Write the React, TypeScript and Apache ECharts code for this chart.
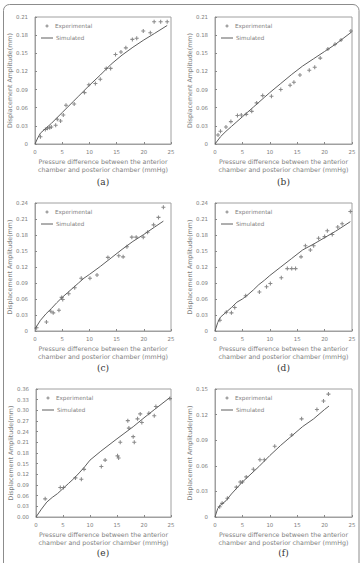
import React, { useEffect, useRef } from 'react';
import * as echarts from 'echarts';

// ---------- data ----------
const panelLabels = ['(a)', '(b)', '(c)', '(d)', '(e)', '(f)'];
const xMax = 25;
const xInterval = 5;
const yMaxes = [0.21, 0.21, 0.24, 0.24, 0.36, 0.15];
const yInterval = 0.03;

const expA_x = [1.0, 1.9, 2.3, 2.7, 3.0, 3.8, 4.1, 4.7, 5.2, 5.7, 7.2, 9.1, 9.9, 11.1, 12.0, 13.1, 13.9, 14.8, 15.8, 16.7, 17.9, 18.7, 19.9, 21.2, 21.9, 23.1, 24.3];
const expA_y = [0.012, 0.024, 0.026, 0.027, 0.028, 0.031, 0.041, 0.038, 0.048, 0.064, 0.066, 0.085, 0.098, 0.100, 0.107, 0.125, 0.125, 0.148, 0.152, 0.159, 0.173, 0.175, 0.187, 0.184, 0.202, 0.202, 0.202];
const simA_x = [0, 0.5, 1, 2, 3, 4, 5, 6, 7, 8, 9, 10, 12, 14, 16, 18, 20, 22, 24.3];
const simA_y = [0, 0.01, 0.018, 0.026, 0.034, 0.043, 0.052, 0.061, 0.07, 0.079, 0.088, 0.097, 0.114, 0.132, 0.147, 0.16, 0.172, 0.183, 0.196];

const expB_x = [0.55, 1.0, 2.0, 2.9, 4.1, 4.8, 5.7, 6.7, 7.6, 8.7, 10.3, 12.0, 13.7, 14.4, 15.5, 17.2, 18.2, 19.2, 20.6, 21.9, 23.0, 24.8];
const expB_y = [0.015, 0.021, 0.028, 0.037, 0.047, 0.048, 0.049, 0.054, 0.068, 0.080, 0.079, 0.090, 0.097, 0.102, 0.114, 0.122, 0.127, 0.142, 0.157, 0.165, 0.172, 0.187];
const simB_x = [0, 1, 2, 3, 4, 5, 6, 7, 8, 9, 10, 12, 14, 16, 18, 20, 22, 24.9];
const simB_y = [0, 0.012, 0.021, 0.029, 0.037, 0.045, 0.053, 0.061, 0.069, 0.077, 0.085, 0.1, 0.115, 0.129, 0.141, 0.153, 0.165, 0.185];

const expC_x = [0.3, 2.1, 2.9, 3.35, 4.4, 4.9, 5.1, 6.2, 7.3, 8.5, 10.1, 11.4, 13.4, 15.4, 16.2, 16.9, 17.8, 18.6, 19.9, 20.7, 21.8, 22.7, 23.6];
const expC_y = [0.006, 0.017, 0.037, 0.034, 0.039, 0.063, 0.059, 0.070, 0.081, 0.099, 0.099, 0.105, 0.138, 0.141, 0.139, 0.158, 0.176, 0.176, 0.176, 0.185, 0.199, 0.213, 0.232];
const simC_x = [0, 1, 2, 3, 4, 5, 6, 7, 8, 9, 10, 12, 14, 16, 18, 20, 22, 23.6];
const simC_y = [0.004, 0.02, 0.032, 0.042, 0.053, 0.063, 0.072, 0.081, 0.09, 0.099, 0.106, 0.121, 0.137, 0.153, 0.168, 0.181, 0.195, 0.206];

const expD_x = [0.9, 2.06, 3.0, 3.6, 5.6, 8.1, 9.4, 10.1, 12.1, 13.2, 14.0, 14.7, 15.7, 16.5, 17.4, 18.0, 18.9, 20.0, 20.5, 21.4, 22.4, 23.2, 24.7];
const expD_y = [0.020, 0.035, 0.034, 0.044, 0.066, 0.073, 0.083, 0.089, 0.100, 0.117, 0.117, 0.117, 0.139, 0.160, 0.152, 0.160, 0.174, 0.177, 0.188, 0.181, 0.195, 0.201, 0.224];
const simD_x = [0, 0.5, 1, 2, 3, 4, 5, 6, 7, 8, 9, 10, 12, 14, 16, 18, 20, 22, 24.7];
const simD_y = [0, 0.016, 0.026, 0.035, 0.044, 0.054, 0.06, 0.068, 0.077, 0.087, 0.095, 0.104, 0.12, 0.136, 0.152, 0.163, 0.175, 0.187, 0.205];

const expE_x = [1.7, 4.5, 5.1, 7.3, 8.4, 8.9, 12.1, 12.8, 15.1, 15.3, 15.6, 17.0, 17.2, 18.0, 18.2, 18.8, 19.3, 19.6, 20.9, 21.9, 22.2, 24.8];
const expE_y = [0.051, 0.083, 0.083, 0.110, 0.106, 0.134, 0.142, 0.160, 0.172, 0.166, 0.210, 0.271, 0.250, 0.226, 0.210, 0.276, 0.290, 0.266, 0.292, 0.285, 0.311, 0.333];
const simE_x = [0, 1, 2, 3, 4, 5, 6, 7, 8, 9, 10, 12, 15, 18, 20, 22, 24.8];
const simE_y = [0, 0.022, 0.042, 0.055, 0.066, 0.08, 0.094, 0.108, 0.124, 0.141, 0.16, 0.185, 0.22, 0.254, 0.279, 0.303, 0.336];

const expF_x = [0.85, 1.3, 2.26, 3.9, 4.6, 5.0, 5.7, 7.0, 8.2, 9.0, 10.9, 14.0, 15.8, 18.6, 19.8, 20.7];
const expF_y = [0.012, 0.016, 0.022, 0.035, 0.041, 0.041, 0.047, 0.056, 0.067, 0.067, 0.083, 0.096, 0.115, 0.126, 0.136, 0.144];
const simF_x = [0, 0.5, 1, 2, 3, 4, 5, 6, 8, 10, 12, 14, 16, 18, 20, 20.8];
const simF_y = [0, 0.01, 0.014, 0.019, 0.027, 0.034, 0.041, 0.047, 0.059, 0.072, 0.084, 0.095, 0.106, 0.115, 0.126, 0.13];

const expX = [expA_x, expB_x, expC_x, expD_x, expE_x, expF_x];
const expY = [expA_y, expB_y, expC_y, expD_y, expE_y, expF_y];
const simX = [simA_x, simB_x, simC_x, simD_x, simE_x, simF_x];
const simY = [simA_y, simB_y, simC_y, simD_y, simE_y, simF_y];

const xTitle = 'Pressure difference between the anterior\nchamber and posterior chamber (mmHg)';
const yTitle = 'Displacement Amplitude(mm)';
const legendExp = 'Experimental';
const legendSim = 'Simulated';

// ---------- layout ----------
const colLeft = [35, 215];
const colWidth = [136, 137];
const rowTop = [17, 203, 389];
const rowHeight = [127, 128, 128];
const captionY = [182, 368, 553];

const FONT = 'DejaVu Sans';
const GREY_TEXT = '#7e7e7e';
const AXIS_COLOR = '#a0a0a0';
const LINE_COLOR = '#5e5e5e';
const POINT_COLOR = '#6e6e6e';

const zip = (xs: number[], ys: number[]) => xs.map((x, i) => [x, ys[i]]);

function buildOption() {
  const grid: any[] = [];
  const xAxis: any[] = [];
  const yAxis: any[] = [];
  const series: any[] = [];
  const graphic: any[] = [];

  graphic.push({
    type: 'rect',
    shape: { x: 3.5, y: 4.5, width: 355.5, height: 620, r: 6 },
    style: { fill: 'none', stroke: '#8c8c8c', lineWidth: 1 },
    silent: true,
  });

  for (let i = 0; i < 6; i++) {
    const col = i % 2;
    const row = Math.floor(i / 2);
    const left = colLeft[col] + (i === 4 ? 1 : 0);
    const width = colWidth[col] - (i === 4 ? 1 : 0);
    const top = rowTop[row];
    const height = rowHeight[row];
    grid.push({
      left, top, width, height,
      show: true,
      borderColor: AXIS_COLOR,
      borderWidth: 1,
      backgroundColor: 'transparent',
    });
    xAxis.push({
      type: 'value',
      gridIndex: i,
      min: 0,
      max: xMax,
      interval: xInterval,
      name: xTitle,
      nameLocation: 'middle',
      nameGap: 14,
      nameTextStyle: { fontFamily: FONT, fontSize: 6.3, color: GREY_TEXT, lineHeight: 7.5 },
      axisLine: { show: true, lineStyle: { color: AXIS_COLOR, width: 1 } },
      axisTick: { show: true, inside: true, length: 2, lineStyle: { color: '#888' } },
      axisLabel: { fontFamily: FONT, fontSize: 5.4, color: GREY_TEXT, margin: 5 },
      splitLine: { show: false },
    });
    const isE = i === 4;
    yAxis.push({
      type: 'value',
      gridIndex: i,
      min: 0,
      max: yMaxes[i],
      interval: yInterval,
      name: yTitle,
      nameLocation: 'middle',
      nameGap: 20,
      nameTextStyle: { fontFamily: FONT, fontSize: 6.3, color: GREY_TEXT },
      axisLine: { show: true, lineStyle: { color: AXIS_COLOR, width: 1 } },
      axisTick: { show: true, inside: true, length: 2, lineStyle: { color: '#888' } },
      axisLabel: {
        fontFamily: FONT, fontSize: 5.4, color: GREY_TEXT, margin: 7,
        formatter: (v: number) => (v === 0 && !isE ? '0' : v.toFixed(2)),
      },
      splitLine: { show: false },
    });
    series.push({
      type: 'scatter',
      name: legendExp,
      xAxisIndex: i,
      yAxisIndex: i,
      data: zip(expX[i], expY[i]),
      symbol: 'path://M-0.4,-1.5H0.4V-0.4H1.5V0.4H0.4V1.5H-0.4V0.4H-1.5V-0.4H-0.4Z',
      symbolSize: 4,
      itemStyle: { color: POINT_COLOR },
    });
    series.push({
      type: 'line',
      name: legendSim,
      xAxisIndex: i,
      yAxisIndex: i,
      data: zip(simX[i], simY[i]),
      symbol: 'none',
      smooth: false,
      lineStyle: { color: LINE_COLOR, width: 1 },
    });

    // legend (drawn)
    const cx = left + 12;
    const cy = top + 9;
    graphic.push({ type: 'line', shape: { x1: cx - 1.6, y1: cy, x2: cx + 1.6, y2: cy }, style: { stroke: POINT_COLOR, lineWidth: 0.8 } });
    graphic.push({ type: 'line', shape: { x1: cx, y1: cy - 1.6, x2: cx, y2: cy + 1.6 }, style: { stroke: POINT_COLOR, lineWidth: 0.8 } });
    graphic.push({ type: 'text', x: left + 20, y: cy, style: { text: legendExp, fontFamily: FONT, fontSize: 5.6, fill: GREY_TEXT, verticalAlign: 'middle', align: 'left' } });
    graphic.push({ type: 'line', shape: { x1: left + 6, y1: top + 21, x2: left + 18, y2: top + 21 }, style: { stroke: LINE_COLOR, lineWidth: 1 } });
    graphic.push({ type: 'text', x: left + 21, y: top + 21, style: { text: legendSim, fontFamily: FONT, fontSize: 5.6, fill: GREY_TEXT, verticalAlign: 'middle', align: 'left' } });

    // caption
    graphic.push({
      type: 'text',
      x: colLeft[col] + colWidth[col] / 2,
      y: captionY[row],
      style: { text: panelLabels[i], fontFamily: 'DejaVu Serif', fontSize: 9, fill: '#333', align: 'center', verticalAlign: 'middle' },
    });
  }

  return {
    animation: false,
    backgroundColor: '#ffffff',
    grid, xAxis, yAxis, series, graphic,
  };
}

export default function App() {
  const ref = useRef<HTMLDivElement>(null);
  useEffect(() => {
    if (!ref.current) return;
    const chart = echarts.init(ref.current, undefined, { renderer: 'svg' });
    chart.setOption(buildOption() as any);
    return () => chart.dispose();
  }, []);
  return (
    <div
      ref={ref}
      style={{ position: 'fixed', left: 0, top: 0, width: 362, height: 563, background: '#fff' }}
    />
  );
}
